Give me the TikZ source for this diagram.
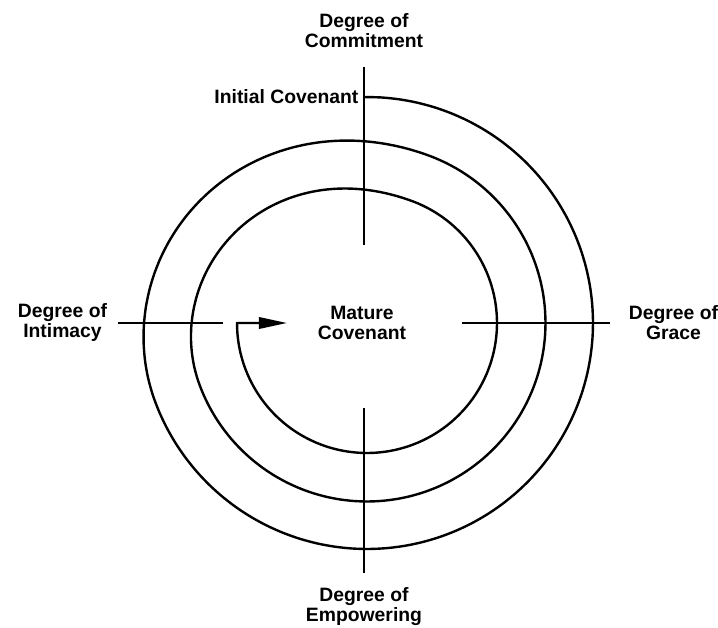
\documentclass[tikz,border=0pt]{standalone}
\usepackage{fontspec}
\setmainfont{Liberation Sans}
\usetikzlibrary{arrows.meta, positioning}

\newcommand{\lblfont}{\bfseries\fontsize{14.5}{15}\selectfont}

\begin{document}
\begin{tikzpicture}[x=0.75pt, y=0.75pt,
    lbl/.style={font=\lblfont, align=center, inner sep=0pt},
    axis/.style={line width=1.5pt},
    spiral/.style={line width=1.8pt, line join=round},
    arr/.style={-{Triangle[length=21pt, width=8.5pt]}},
    declare function={spramp(\t)=min(1,max(0,\t/130));
                      spstep(\s)=\s*\s*(3-2*\s);
                      sprad(\t)=226-47.5*spstep(spramp(\t-250))-48.5*spstep(spramp(\t-610));}
  ]
  \useasboundingbox (-367,-305) rectangle (351,323);

  % axis ends
  \coordinate (topout) at (-3,256);
  \coordinate (topin)  at (-3,78);
  \coordinate (botin)  at (-3,-85);
  \coordinate (botout) at (-3,-250);
  \coordinate (lftout) at (-249,0);
  \coordinate (lftin)  at (-144,0);
  \coordinate (rgtin)  at (95,0);
  \coordinate (rgtout) at (243,0);
  \coordinate (init)   at (-3,226);
  \coordinate (tip)    at (-80,0);

  \draw[axis] (topout) -- (topin);
  \draw[axis] (botin) -- (botout);
  \draw[axis] (lftout) -- (lftin);
  \draw[axis] (rgtin) -- (rgtout);

  % spiral, three turns inwards
  \draw[spiral, arr] plot[domain=-0.8:990, samples=221, smooth, variable=\t]
        ({sprad(\t)*cos(90-\t)}, {sprad(\t)*sin(90-\t)}) -- (tip);

  % Labels
  \node[lbl, above=14pt of topout] (commit) {Degree of\\Commitment};
  \node[lbl, left=4pt of init] (initial) {Initial Covenant};
  \node[lbl, left=8pt of lftout] (intim) {Degree of\\Intimacy};
  \node[lbl, right=14pt of rgtout] (grace) {Degree of\\Grace};
  \node[lbl, below=11pt of botout] (empow) {Degree of\\Empowering};
  \node[lbl] (mature) at (-5,0) {Mature\\Covenant};
\end{tikzpicture}
\end{document}
